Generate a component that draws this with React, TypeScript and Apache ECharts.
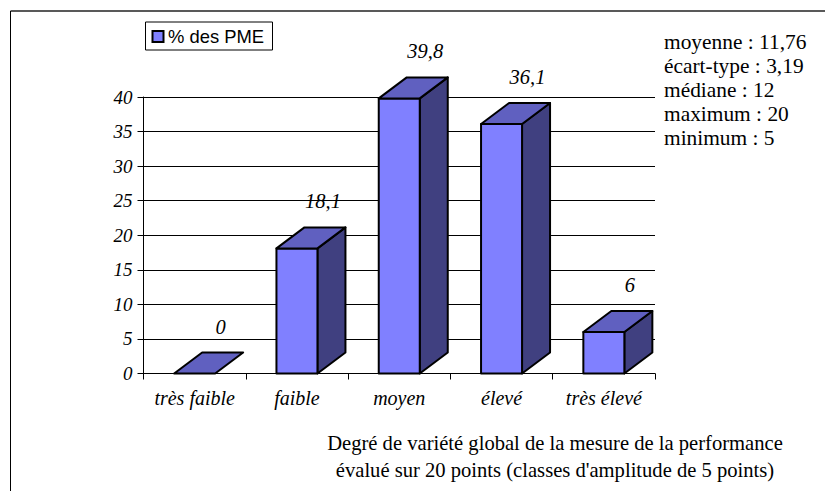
import React, { useEffect, useRef } from "react";
import * as echarts from "echarts";

const categories = ["très faible", "faible", "moyen", "élevé", "très élevé"];
const values = [0, 18.1, 39.8, 36.1, 6];
const valueLabels = ["0", "18,1", "39,8", "36,1", "6"];
const yTicks = [0, 5, 10, 15, 20, 25, 30, 35, 40];
const statLines = ["moyenne : 11,76", "écart-type : 3,19", "médiane : 12", "maximum : 20", "minimum : 5"];
const captionLines = [
  "Degré de variété global de la mesure de la performance",
  "évalué sur 20 points (classes d'amplitude de 5 points)",
];
const seriesName = "% des PME";

const SERIF = "'Liberation Serif', 'Times New Roman', serif";
const SANS = "'Liberation Sans', Arial, sans-serif";
const FRONT = "#8080FF";
const TOP = "#6060C0";
const SIDE = "#404080";
const DX = 28;
const DY = 21;

function renderBar(params: any, api: any) {
  const i = api.value(0);
  const v = api.value(1);
  const [cx, yTop] = api.coord([i, v]);
  const [, y0] = api.coord([i, 0]);
  const hw = 20.5;
  const l = cx - hw;
  const r = cx + hw;
  const line = { stroke: "#000", lineWidth: 2, lineJoin: "round" };
  const children: any[] = [];
  if (v > 0) {
    children.push({
      type: "polygon",
      shape: { points: [[r, yTop], [r + DX, yTop - DY], [r + DX, y0 - DY], [r, y0]] },
      style: { fill: SIDE, ...line },
    });
    children.push({
      type: "polygon",
      shape: { points: [[l, yTop], [r, yTop], [r, y0], [l, y0]] },
      style: { fill: FRONT, ...line },
    });
  }
  children.push({
    type: "polygon",
    shape: { points: [[l, yTop], [l + DX, yTop - DY], [r + DX, yTop - DY], [r, yTop]] },
    style: { fill: TOP, ...line },
  });
  children.push({
    type: "text",
    x: cx + 26,
    y: yTop - 47,
    style: {
      text: valueLabels[i],
      fill: "#000",
      font: `italic 20.5px ${SERIF}`,
      align: "center",
      verticalAlign: "middle",
    },
  });
  return { type: "group", children };
}

export default function App() {
  const ref = useRef<HTMLDivElement>(null);
  useEffect(() => {
    const chart = echarts.init(ref.current!, null, { renderer: "svg" });
    chart.setOption({
      animation: false,
      backgroundColor: "#fff",
      grid: { left: 143.5, right: 170, top: 97, bottom: 117.5, containLabel: false },
      xAxis: {
        type: "category",
        data: categories,
        boundaryGap: true,
        axisLine: { show: true, lineStyle: { color: "#000", width: 1 } },
        axisTick: { show: true, alignWithLabel: false, interval: 0, length: 6, lineStyle: { color: "#000", width: 1 } },
        axisLabel: { color: "#000", fontFamily: SERIF, fontStyle: "italic", fontSize: 20, margin: 14, interval: 0, hideOverlap: false },
      },
      yAxis: {
        type: "value",
        min: 0,
        max: 40,
        interval: 5,
        axisLine: { show: true, lineStyle: { color: "#000", width: 1 } },
        axisTick: { show: true, length: 6, lineStyle: { color: "#000", width: 1 } },
        axisLabel: {
          color: "#000",
          fontFamily: SERIF,
          fontStyle: "italic",
          fontSize: 19,
          margin: 11,
          formatter: (v: number) => (yTicks.includes(v) ? String(v) : ""),
        },
        splitLine: { show: true, lineStyle: { color: "#000", width: 1 } },
      },
      series: [
        {
          type: "custom",
          name: seriesName,
          renderItem: renderBar,
          encode: { x: 0, y: 1 },
          data: values.map((v, i) => [i, v]),
          clip: false,
          z: 5,
        },
      ],
      graphic: [
        { type: "line", shape: { x1: 10.5, y1: 11, x2: 825, y2: 11 }, style: { stroke: "#222", lineWidth: 1.5 }, z: 0 },
        { type: "line", shape: { x1: 10.5, y1: 11, x2: 10.5, y2: 491 }, style: { stroke: "#000", lineWidth: 1 }, z: 0 },
        { type: "rect", shape: { x: 145.5, y: 22, width: 127, height: 28 }, style: { fill: "#fff", stroke: "#000", lineWidth: 1 }, z: 10 },
        { type: "rect", shape: { x: 152.5, y: 31, width: 11, height: 11 }, style: { fill: FRONT, stroke: "#000", lineWidth: 2 }, z: 11 },
        { type: "text", x: 168, y: 36.5, style: { text: seriesName, fill: "#000", font: `18.4px ${SANS}`, align: "left", verticalAlign: "middle" }, z: 11 },
        ...statLines.map((t, i) => ({
          type: "text",
          x: 664,
          y: 42 + i * 24,
          style: { text: t, fill: "#000", font: `21.4px ${SERIF}`, align: "left", verticalAlign: "middle" },
          z: 11,
        })),
        ...captionLines.map((t, i) => ({
          type: "text",
          x: 555,
          y: 443 + i * 27,
          style: { text: t, fill: "#000", font: `20.6px ${SERIF}`, align: "center", verticalAlign: "middle" },
          z: 11,
        })),
      ],
    });
    return () => chart.dispose();
  }, []);
  return <div ref={ref} style={{ position: "fixed", left: 0, top: 0, width: 825, height: 491 }} />;
}
